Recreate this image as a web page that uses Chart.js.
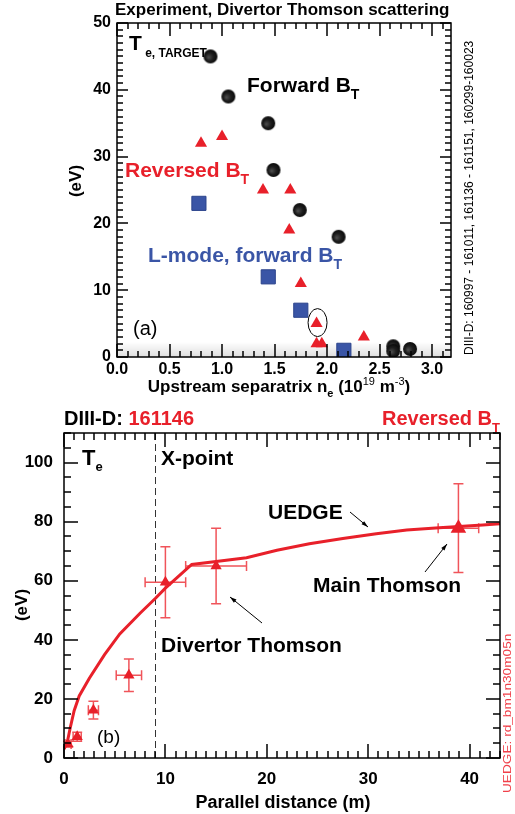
<!DOCTYPE html>
<html>
<head>
<meta charset="utf-8">
<script src="https://cdn.jsdelivr.net/npm/chart.js@4.4.0/dist/chart.umd.min.js"></script>
<style>
  body { margin: 0; background: #fff; }
  #wrap { position: relative; width: 515px; height: 814px; }
  canvas { position: absolute; left: 0; }
  #top { top: 0; }
  #bottom { top: 400px; }
</style>
</head>
<body>
<div id="wrap">
  <canvas id="top" width="515" height="400"></canvas>
  <canvas id="bottom" width="515" height="414"></canvas>
</div>
<script>
// panel (a): target Te vs upstream separatrix density
const forwardNe = [0.89, 1.06, 1.44, 1.49, 1.74, 2.11, 2.63, 2.63, 2.79];
const forwardTe = [45, 39, 35, 28, 22, 18, 1.6, 0.9, 1.2];
const reversedNe = [0.80, 1.00, 1.39, 1.65, 1.64, 1.75, 1.90, 1.90, 1.95, 2.35];
const reversedTe = [32, 33, 25, 25, 19, 11, 5, 2, 2, 3];
const lmodeNe = [0.78, 1.44, 1.75, 2.16];
const lmodeTe = [23, 12, 7, 1];

// panel (b): Te along the field line, shot 161146
const uedgeS = [0, 0.3, 0.6, 1.0, 1.5, 2.5, 4.0, 5.5, 7.5, 9.0, 10.0, 12.6, 15.0, 18.0, 21.0, 24.2, 27.5, 30.8, 33.8, 37.0, 41.3, 43.0];
const uedgeTe = [3, 5, 10, 16, 21, 27, 35, 42, 49, 54, 57.5, 65.5, 66.5, 67.8, 70.3, 72.5, 74.3, 75.9, 77.2, 77.9, 78.9, 79.3];
const divS = [0.4, 1.3, 2.9, 6.4, 10.0, 15.0];
const divTe = [4.7, 7.2, 16.2, 28, 59.5, 65];
const divSErr = [0.3, 0.4, 0.5, 1.25, 2, 3];
const divTeErr = [1, 1.5, 3, 5.5, 12, 12.8];
const mainS = [38.9];
const mainTe = [77.8];
const mainSErr = [2];
const mainTeErr = [15];

// minor / major tick spacing for the inward tick combs
const topXTicks = { minor: 0.1, major: 0.5 };
const topYTicks = { minor: 1, major: 10 };
const botXTicks = { minor: 1, major: 10 };
const botYTicks = { minor: 5, major: 20 };

const FAM = '"Liberation Sans", Arial, Helvetica, sans-serif';
const RED = '#e8202a';
const BLUE = '#3a55a6';
Chart.defaults.font.family = FAM;
Chart.defaults.color = '#000';

const pts = (xs, ys) => xs.map((x, i) => ({ x: x, y: ys[i] }));

function font(p) {
  return (p.b === false ? '' : 'bold ') + p.s + 'px ' + FAM;
}

// draw a run of text pieces (for sub/superscripts)
function rich(ctx, x, y, parts, align) {
  let w = 0;
  parts.forEach(p => { ctx.font = font(p); w += ctx.measureText(p.t).width; });
  let cx = align === 'right' ? x - w : align === 'center' ? x - w / 2 : x;
  ctx.textAlign = 'left';
  ctx.textBaseline = 'alphabetic';
  parts.forEach(p => {
    ctx.font = font(p);
    ctx.fillStyle = p.c || '#000';
    ctx.fillText(p.t, cx, y + (p.dy || 0));
    cx += ctx.measureText(p.t).width;
  });
}

function vtext(ctx, x, y, parts, align) {
  ctx.save();
  ctx.translate(x, y);
  ctx.rotate(-Math.PI / 2);
  rich(ctx, 0, 0, parts, align);
  ctx.restore();
}

function arrow(ctx, x1, y1, x2, y2) {
  ctx.save();
  ctx.strokeStyle = '#000';
  ctx.fillStyle = '#000';
  ctx.lineWidth = 1;
  ctx.beginPath(); ctx.moveTo(x1, y1); ctx.lineTo(x2, y2); ctx.stroke();
  const a = Math.atan2(y2 - y1, x2 - x1), h = 7;
  ctx.beginPath();
  ctx.moveTo(x2, y2);
  ctx.lineTo(x2 - h * Math.cos(a - 0.3), y2 - h * Math.sin(a - 0.3));
  ctx.lineTo(x2 - h * Math.cos(a + 0.3), y2 - h * Math.sin(a + 0.3));
  ctx.closePath();
  ctx.fill();
  ctx.restore();
}

// values from 0 to max in steps of `minor`, flagged when on a major step
function tickList(max, t) {
  const out = [];
  const n = Math.floor(max / t.minor + 1e-6);
  const every = Math.round(t.major / t.minor);
  for (let i = 0; i <= n; i++) out.push({ v: i * t.minor, major: i % every === 0 });
  return out;
}

// ROOT-like frame with inward ticks on all four sides
function frame(chart, tx, ty, len) {
  const ctx = chart.ctx;
  const a = chart.chartArea;
  const sx = chart.scales.x, sy = chart.scales.y;
  ctx.save();
  ctx.setLineDash([]);
  ctx.strokeStyle = '#000';
  ctx.lineWidth = 1.5;
  ctx.beginPath();
  tickList(sx.max, tx).forEach(t => {
    const l = t.major ? len.xBig : len.xSmall;
    const px = Math.round(sx.getPixelForValue(t.v));
    ctx.moveTo(px, a.bottom);
    ctx.lineTo(px, a.bottom - l);
    ctx.moveTo(px, a.top);
    ctx.lineTo(px, a.top + l);
  });
  tickList(sy.max, ty).forEach(t => {
    const l = t.major ? len.yBig : len.ySmall;
    const py = Math.round(sy.getPixelForValue(t.v));
    ctx.moveTo(a.left, py);
    ctx.lineTo(a.left + l, py);
    ctx.moveTo(a.right, py);
    ctx.lineTo(a.right - l, py);
  });
  ctx.stroke();
  ctx.lineWidth = 1.5;
  ctx.strokeRect(a.left, a.top, a.right - a.left, a.bottom - a.top);
  ctx.restore();
}

function ball(r) {
  const c = document.createElement('canvas');
  c.width = c.height = 2 * r + 2;
  const g = c.getContext('2d');
  const grad = g.createRadialGradient(r - 1, r + 2, 0.5, r + 1, r + 1, r + 1);
  grad.addColorStop(0, '#4a4a4a');
  grad.addColorStop(0.45, '#1e1e1e');
  grad.addColorStop(1, '#050505');
  g.fillStyle = grad;
  g.beginPath(); g.arc(r + 1, r + 1, r, 0, 2 * Math.PI); g.fill();
  return c;
}

// ---------- panel (a) ----------
const topDeco = {
  id: 'topDeco',
  beforeDatasetsDraw(chart) {
    const { ctx, chartArea: a } = chart;
    const g = ctx.createLinearGradient(0, a.bottom - 15, 0, a.bottom);
    g.addColorStop(0, 'rgba(0,0,0,0)');
    g.addColorStop(1, 'rgba(0,0,0,0.13)');
    ctx.fillStyle = g;
    ctx.fillRect(a.left, a.bottom - 15, a.width, 15);
  },
  afterDraw(chart) {
    const { ctx, scales: { x, y } } = chart;
    frame(chart, topXTicks, topYTicks, { xBig: 13, xSmall: 6, yBig: 11, ySmall: 6 });
    rich(ctx, 115, 15, [{ t: 'Experiment, Divertor Thomson scattering', s: 17 }]);
    rich(ctx, 129, 50, [{ t: 'T', s: 21 }, { t: ' e, TARGET', s: 12, dy: 7 }]);
    rich(ctx, 247, 92, [{ t: 'Forward B', s: 21 }, { t: 'T', s: 14, dy: 7 }]);
    rich(ctx, 125, 177, [{ t: 'Reversed B', s: 21, c: RED }, { t: 'T', s: 14, dy: 7, c: RED }]);
    rich(ctx, 148, 262, [{ t: 'L-mode, forward B', s: 21, c: BLUE }, { t: 'T', s: 14, dy: 7, c: BLUE }]);
    rich(ctx, 133, 335, [{ t: '(a)', s: 20, b: false }]);
    // ring around the highlighted point
    ctx.save();
    ctx.strokeStyle = '#000';
    ctx.lineWidth = 1;
    ctx.beginPath();
    ctx.ellipse(x.getPixelForValue(reversedNe[6]) + 1, y.getPixelForValue(reversedTe[6]) - 1, 9.5, 14, 0, 0, 2 * Math.PI);
    ctx.stroke();
    ctx.restore();
    vtext(ctx, 81, 181, [{ t: '(eV)', s: 17 }], 'center');
    rich(ctx, 279, 392, [
      { t: 'Upstream separatrix n', s: 17 },
      { t: 'e', s: 11, dy: 5 },
      { t: ' (10', s: 17 },
      { t: '19', s: 11, dy: -7, b: false },
      { t: ' m', s: 17 },
      { t: '-3', s: 11, dy: -7, b: false },
      { t: ')', s: 17 }
    ], 'center');
    vtext(ctx, 473, 355, [{ t: 'DIII-D: 160997 - 161011, 161136 - 161151, 160299-160023', s: 12, b: false }], 'left');
  }
};

new Chart(document.getElementById('top').getContext('2d'), {
  type: 'scatter',
  data: {
    datasets: [
      {
        label: 'Forward BT',
        data: pts(forwardNe, forwardTe),
        pointStyle: ball(7),
        pointRadius: 7
      },
      {
        label: 'Reversed BT',
        data: pts(reversedNe, reversedTe),
        pointStyle: 'triangle',
        pointRadius: 7,
        pointBackgroundColor: RED,
        pointBorderColor: RED,
        pointBorderWidth: 0
      },
      {
        label: 'L-mode, forward BT',
        data: pts(lmodeNe, lmodeTe),
        pointStyle: 'rect',
        pointRadius: 10,
        pointBackgroundColor: BLUE,
        pointBorderColor: '#2c448c',
        pointBorderWidth: 1
      }
    ]
  },
  options: {
    responsive: false,
    animation: false,
    devicePixelRatio: 1,
    layout: { padding: { left: 0, right: 64, top: 23, bottom: 0 } },
    plugins: { legend: { display: false }, tooltip: { enabled: false } },
    scales: {
      x: {
        type: 'linear',
        min: 0,
        max: 3.18,
        grid: { display: false, drawTicks: false },
        border: { display: false },
        ticks: {
          stepSize: 0.5,
          includeBounds: false,
          padding: 3,
          maxRotation: 0,
          autoSkip: false,
          color: '#000',
          font: { size: 16, weight: 'bold' },
          callback: v => v.toFixed(1)
        },
        afterFit: s => { s.height = 43; }
      },
      y: {
        min: 0,
        max: 50,
        grid: { display: false, drawTicks: false },
        border: { display: false },
        ticks: {
          stepSize: 10,
          padding: 6,
          color: '#000',
          font: { size: 16, weight: 'bold' }
        },
        afterFit: s => { s.width = 117; }
      }
    }
  },
  plugins: [topDeco]
});

// ---------- panel (b) ----------
function drawErr(chart, xs, ys, xe, ye) {
  const { ctx, scales: { x, y } } = chart;
  ctx.save();
  ctx.strokeStyle = '#f0545a';
  ctx.lineWidth = 1.5;
  ctx.beginPath();
  xs.forEach((v, i) => {
    const px = x.getPixelForValue(v), py = y.getPixelForValue(ys[i]);
    const x0 = x.getPixelForValue(v - xe[i]), x1 = x.getPixelForValue(v + xe[i]);
    const y0 = y.getPixelForValue(ys[i] - ye[i]), y1 = y.getPixelForValue(ys[i] + ye[i]);
    ctx.moveTo(x0, py); ctx.lineTo(x1, py);
    ctx.moveTo(x0, py - 5); ctx.lineTo(x0, py + 5);
    ctx.moveTo(x1, py - 5); ctx.lineTo(x1, py + 5);
    ctx.moveTo(px, y0); ctx.lineTo(px, y1);
    ctx.moveTo(px - 5, y0); ctx.lineTo(px + 5, y0);
    ctx.moveTo(px - 5, y1); ctx.lineTo(px + 5, y1);
  });
  ctx.stroke();
  ctx.restore();
}

const bottomDeco = {
  id: 'bottomDeco',
  beforeDatasetsDraw(chart) {
    const { ctx, chartArea: a, scales: { x } } = chart;
    const px = Math.round(x.getPixelForValue(9)) + 0.5;
    ctx.save();
    ctx.strokeStyle = '#333';
    ctx.lineWidth = 1;
    ctx.setLineDash([7, 4]);
    ctx.beginPath(); ctx.moveTo(px, a.top); ctx.lineTo(px, a.bottom); ctx.stroke();
    ctx.restore();
    drawErr(chart, divS, divTe, divSErr, divTeErr);
    drawErr(chart, mainS, mainTe, mainSErr, mainTeErr);
  },
  afterDraw(chart) {
    const { ctx } = chart;
    frame(chart, botXTicks, botYTicks, { xBig: 14, xSmall: 7, yBig: 14, ySmall: 7 });
    rich(ctx, 64, 25, [{ t: 'DIII-D: ', s: 20 }, { t: '161146', s: 20, c: RED }]);
    rich(ctx, 500, 25, [{ t: 'Reversed B', s: 20, c: RED }, { t: 'T', s: 13, dy: 7, c: RED }], 'right');
    rich(ctx, 82, 65, [{ t: 'T', s: 22 }, { t: 'e', s: 13, dy: 6 }]);
    rich(ctx, 161, 65, [{ t: 'X-point', s: 21 }]);
    rich(ctx, 268, 119, [{ t: 'UEDGE', s: 21 }]);
    rich(ctx, 313, 192, [{ t: 'Main Thomson', s: 21 }]);
    rich(ctx, 161, 252, [{ t: 'Divertor Thomson', s: 21 }]);
    rich(ctx, 97, 343, [{ t: '(b)', s: 19, b: false }]);
    arrow(ctx, 350, 112, 368, 127);
    arrow(ctx, 425, 172, 447, 144);
    arrow(ctx, 262, 223, 230, 197);
    vtext(ctx, 27, 205, [{ t: '(eV)', s: 17 }], 'center');
    rich(ctx, 283, 408, [{ t: 'Parallel distance (m)', s: 18 }], 'center');
    ctx.save();
    ctx.translate(511, 393);
    ctx.rotate(-Math.PI / 2);
    ctx.scale(1.3, 1);
    rich(ctx, 0, 0, [{ t: 'UEDGE: rd_bm1n30m05n', s: 10.5, b: false, c: '#f0404a' }]);
    ctx.restore();
  }
};

new Chart(document.getElementById('bottom').getContext('2d'), {
  type: 'scatter',
  data: {
    datasets: [
      {
        label: 'UEDGE',
        data: pts(uedgeS, uedgeTe),
        showLine: true,
        borderColor: RED,
        borderWidth: 3,
        pointRadius: 0,
        fill: false,
        order: 3
      },
      {
        label: 'Divertor Thomson',
        data: pts(divS, divTe),
        pointStyle: 'triangle',
        pointRadius: 6.5,
        pointBackgroundColor: RED,
        pointBorderColor: RED,
        pointBorderWidth: 0,
        order: 1
      },
      {
        label: 'Main Thomson',
        data: pts(mainS, mainTe),
        pointStyle: 'triangle',
        pointRadius: 9,
        pointBackgroundColor: RED,
        pointBorderColor: RED,
        pointBorderWidth: 0,
        order: 2
      }
    ]
  },
  options: {
    responsive: false,
    animation: false,
    devicePixelRatio: 1,
    layout: { padding: { left: 0, right: 15, top: 33, bottom: 0 } },
    plugins: { legend: { display: false }, tooltip: { enabled: false } },
    scales: {
      x: {
        type: 'linear',
        min: 0,
        max: 43,
        grid: { display: false, drawTicks: false },
        border: { display: false },
        ticks: {
          stepSize: 10,
          includeBounds: false,
          padding: 11,
          maxRotation: 0,
          autoSkip: false,
          color: '#000',
          font: { size: 17, weight: 'bold' }
        },
        afterFit: s => { s.height = 56; }
      },
      y: {
        min: 0,
        max: 110,
        grid: { display: false, drawTicks: false },
        border: { display: false },
        ticks: {
          stepSize: 20,
          includeBounds: false,
          padding: 11,
          color: '#000',
          font: { size: 17, weight: 'bold' }
        },
        afterFit: s => { s.width = 64; }
      }
    }
  },
  plugins: [bottomDeco]
});
</script>
</body>
</html>
